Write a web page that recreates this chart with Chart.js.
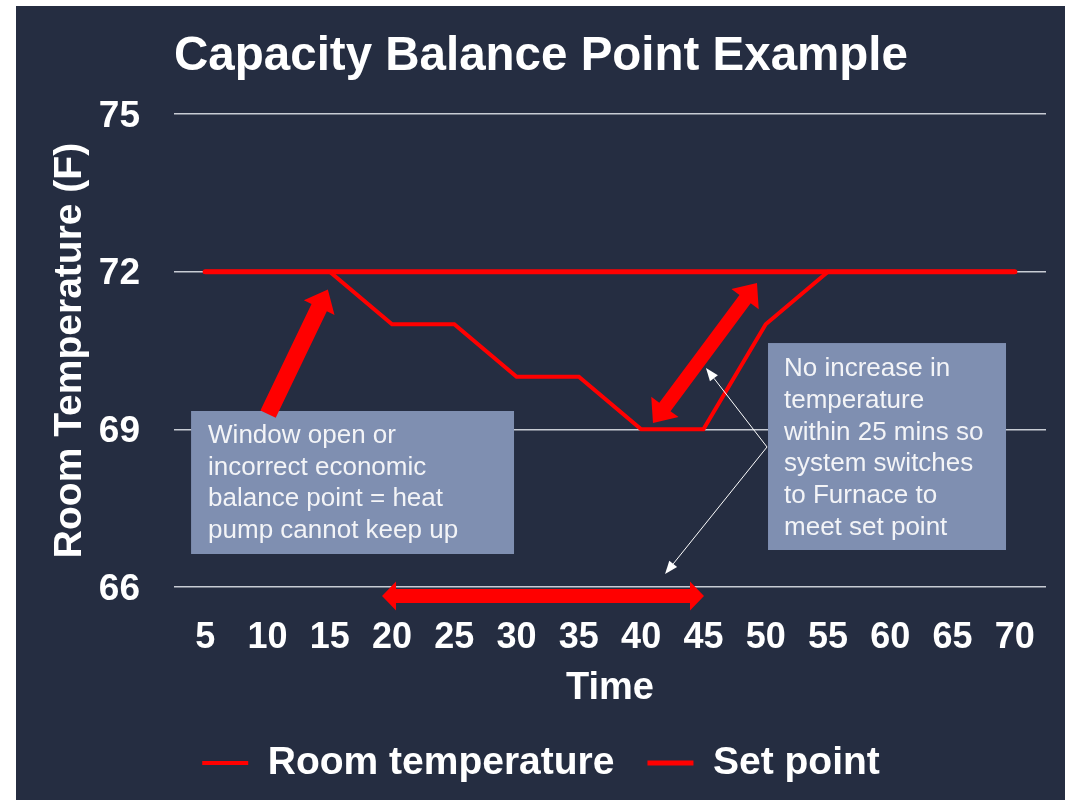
<!DOCTYPE html>
<html><head><meta charset="utf-8">
<script src="https://cdn.jsdelivr.net/npm/chart.js@4.4.1/dist/chart.umd.min.js"></script>
<style>
html,body{margin:0;padding:0;background:#ffffff;}
#wrap{position:absolute;left:16px;top:6px;width:1049px;height:794px;background:#252d41;}
</style></head><body>
<div id="wrap"><canvas id="c"></canvas></div>
<script>
// ---- data ----
const categories = ['5','10','15','20','25','30','35','40','45','50','55','60','65','70'];
const roomTemperature = [72,72,72,71,71,70,70,69,69,71,72,72,72,72];
const setPoint = [72,72,72,72,72,72,72,72,72,72,72,72,72,72];
const yTicks = [66,69,72,75];
const noteWindow = ['Window open or','incorrect economic','balance point = heat','pump cannot keep up'];
const noteFurnace = ['No increase in','temperature','within 25 mins so','system switches','to Furnace to','meet set point'];

const FONT = '"Liberation Sans", Arial, Helvetica, sans-serif';
const RED = '#ff0000';

// annotation geometry in data space (x = category index, y = temperature)
const boxes = [
  {x1:-0.226, x2:4.959, y1:69.349, y2:66.628, lines:noteWindow, padX:17, firstBase:32.5, lh:31.5},
  {x1:9.037, x2:12.858, y1:70.642, y2:66.704, lines:noteFurnace, padX:16, firstBase:33, lh:31.8}
];
const blockArrows = [
  {from:[1.01,69.29], to:[1.97,71.66], shaft:17, headW:34, headL:20, both:false},
  {from:[7.19,69.12], to:[8.86,71.784], shaft:14, headW:34, headL:20, both:true},
  {from:[2.84,65.829], to:[8.009,65.829], shaft:14, headW:29, headL:14, both:true}
];
const thinArrows = [
  {from:[9.021,68.664], to:[8.041,70.167]},
  {from:[9.021,68.664], to:[7.384,66.247]}
];

function blockArrow(ctx, ax, ay, bx, by, w, hw, hl, dbl){
  const dx=bx-ax, dy=by-ay, L=Math.hypot(dx,dy), ux=dx/L, uy=dy/L, nx=-uy, ny=ux;
  const P=(s,t)=>[ax+ux*s+nx*t, ay+uy*s+ny*t];
  const pts=[];
  if(dbl){ pts.push(P(0,0),P(hl,hw/2),P(hl,w/2)); } else { pts.push(P(0,w/2)); }
  pts.push(P(L-hl,w/2),P(L-hl,hw/2),P(L,0),P(L-hl,-hw/2),P(L-hl,-w/2));
  if(dbl){ pts.push(P(hl,-w/2),P(hl,-hw/2)); } else { pts.push(P(0,-w/2)); }
  ctx.beginPath();
  pts.forEach((p,i)=> i?ctx.lineTo(p[0],p[1]):ctx.moveTo(p[0],p[1]));
  ctx.closePath(); ctx.fill();
}

const annotationPlugin = {
  id:'notes',
  afterDraw(chart){
    const ctx=chart.ctx, xs=chart.scales.x, ys=chart.scales.y;
    const X=v=>xs.getPixelForValue(v), Y=v=>ys.getPixelForValue(v);
    ctx.save();
    boxes.forEach(b=>{
      const l=X(b.x1), r=X(b.x2), t=Y(b.y1), btm=Y(b.y2);
      ctx.fillStyle='#7f8fb1';
      ctx.fillRect(l,t,r-l,btm-t);
      ctx.fillStyle='#f3f4f7';
      ctx.font='26px '+FONT;
      ctx.textAlign='left'; ctx.textBaseline='alphabetic';
      b.lines.forEach((s,i)=>ctx.fillText(s,l+b.padX,t+b.firstBase+i*b.lh));
    });
    ctx.fillStyle=RED;
    blockArrows.forEach(a=>blockArrow(ctx,X(a.from[0]),Y(a.from[1]),X(a.to[0]),Y(a.to[1]),a.shaft,a.headW,a.headL,a.both));
    ctx.strokeStyle='#ffffff'; ctx.fillStyle='#ffffff'; ctx.lineWidth=1;
    thinArrows.forEach(a=>{
      const ax=X(a.from[0]), ay=Y(a.from[1]), bx=X(a.to[0]), by=Y(a.to[1]);
      const dx=bx-ax, dy=by-ay, L=Math.hypot(dx,dy), ux=dx/L, uy=dy/L;
      const hl=13, hw=5;
      ctx.beginPath(); ctx.moveTo(ax,ay); ctx.lineTo(bx-ux*hl,by-uy*hl); ctx.stroke();
      ctx.beginPath(); ctx.moveTo(bx,by);
      ctx.lineTo(bx-ux*hl-uy*hw, by-uy*hl+ux*hw);
      ctx.lineTo(bx-ux*hl+uy*hw, by-uy*hl-ux*hw);
      ctx.closePath(); ctx.fill();
    });
    ctx.restore();
  }
};

new Chart(document.getElementById('c'),{
  type:'line',
  data:{labels:categories, datasets:[
    {label:'Room temperature', data:roomTemperature, borderColor:RED, backgroundColor:RED, borderWidth:4, pointRadius:0, tension:0, borderCapStyle:'round', borderJoinStyle:'miter'},
    {label:'Set point', data:setPoint, borderColor:RED, backgroundColor:RED, borderWidth:5, pointRadius:0, tension:0, borderCapStyle:'round'}
  ]},
  options:{
    responsive:true, maintainAspectRatio:false, animation:false,
    layout:{padding:{left:20,right:19,top:0,bottom:7.5}},
    plugins:{
      title:{display:true, text:'Capacity Balance Point Example', color:'#ffffff',
        font:{family:FONT,size:47.5,weight:'bold',lineHeight:1.2}, padding:{top:22,bottom:29}},
      legend:{position:'bottom', labels:{color:'#ffffff', font:{family:FONT,size:39,weight:'bold'},
        usePointStyle:true, pointStyle:'line', pointStyleWidth:46, padding:33}},
      tooltip:{enabled:false}
    },
    scales:{
      x:{offset:true, grid:{display:false, drawTicks:false}, border:{display:false},
        ticks:{color:'#ffffff', font:{family:FONT,size:36,weight:'bold'}, padding:29, maxRotation:0, autoSkip:false},
        title:{display:true, text:'Time', color:'#ffffff', font:{family:FONT,size:38,weight:'bold',lineHeight:1.0}, padding:{top:0,bottom:2.5}},
        afterFit(s){ s.height=123.5; }},
      y:{min:66, max:75,
        afterBuildTicks(s){ s.ticks = yTicks.map(v=>({value:v})); },
        grid:{color:'#c8ccd4', lineWidth:1.5, drawTicks:false}, border:{display:false},
        ticks:{color:'#ffffff', font:{family:FONT,size:37,weight:'bold'}, padding:34, labelOffset:2.5},
        title:{display:true, text:'Room Temperature (F)', color:'#ffffff', font:{family:FONT,size:39,weight:'bold',lineHeight:1.2}, padding:{top:10.6,bottom:0}},
        afterFit(s){ s.width=138; }}
    }
  },
  plugins:[annotationPlugin]
});
</script>
</body></html>
